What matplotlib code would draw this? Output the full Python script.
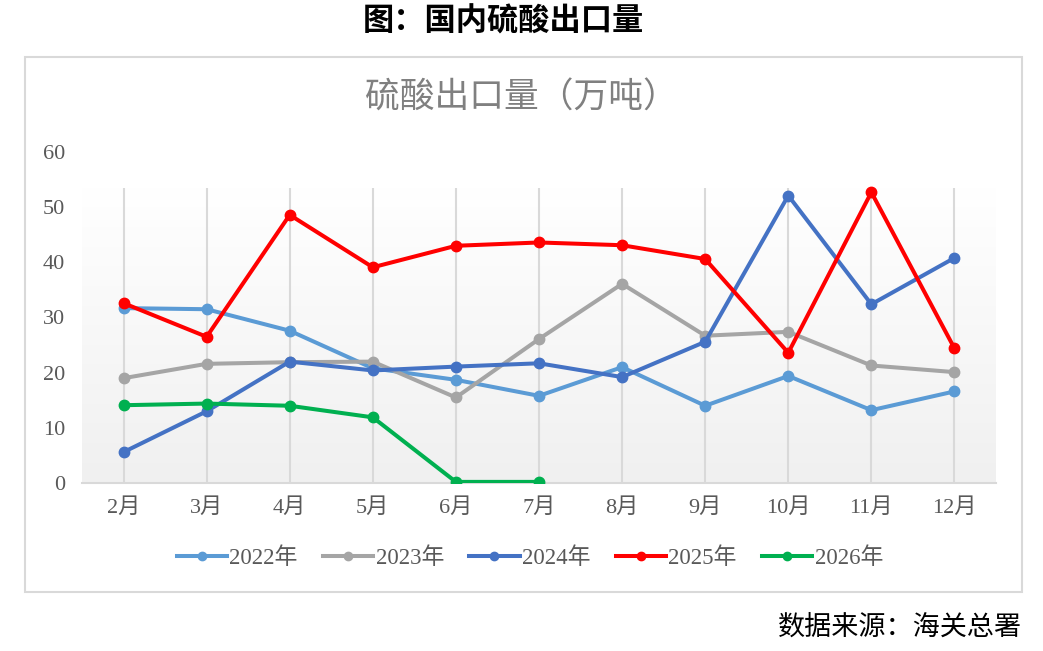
import matplotlib
matplotlib.use("Agg")
import matplotlib.pyplot as plt
import numpy as np
from matplotlib.patches import Rectangle
from matplotlib.lines import Line2D
from matplotlib.colors import LinearSegmentedColormap

months = ["2月", "3月", "4月", "5月", "6月", "7月", "8月", "9月", "10月", "11月", "12月"]
y2022 = [31.7, 31.5, 27.6, 20.8, 18.7, 15.8, 21.0, 14.0, 19.4, 13.2, 16.6]
y2023 = [19.0, 21.6, 21.9, 22.0, 15.5, 26.1, 36.1, 26.7, 27.4, 21.3, 20.1]
y2024 = [5.6, 13.0, 22.0, 20.4, 21.1, 21.7, 19.2, 25.6, 52.1, 32.4, 40.8]
y2025 = [32.6, 26.5, 48.6, 39.1, 43.0, 43.6, 43.1, 40.6, 23.6, 52.7, 24.4]
y2026 = [14.1, 14.4, 14.0, 11.9, 0.2, 0.2]
series_names = ["2022年", "2023年", "2024年", "2025年", "2026年"]
colors = ["#5B9BD5", "#A5A5A5", "#4472C4", "#FF0000", "#00B050"]
yticks = [0, 10, 20, 30, 40, 50, 60]

fam = ["Liberation Serif", "Noto Sans CJK SC", "DejaVu Sans"]
plt.rcParams["font.family"] = fam

W, H = 1043, 651
fig = plt.figure(figsize=(W / 100, H / 100), dpi=100)

# frame box
fig.patches.append(Rectangle((25 / W, 1 - 592 / H), (1022 - 25) / W, (592 - 57) / H,
                             transform=fig.transFigure, fill=False, edgecolor="#d9d9d9", lw=1.5))

fig.text(503 / W, 1 - 22 / H, "图：国内硫酸出口量", ha="center", va="center", fontsize=22.5,
         fontweight="bold", color="black", family=["Noto Sans CJK SC"])
fig.text(0.5, 1 - 98 / H, "硫酸出口量（万吨）", ha="center", va="center", fontsize=25,
         color="#808080", family=["Noto Sans CJK SC"])
fig.text(1022 / W, 1 - 627 / H, "数据来源：海关总署", ha="right", va="center", fontsize=19.5,
         color="black", family=["Noto Sans CJK SC"])

ax = fig.add_axes([82 / W, 1 - 483 / H, (996 - 82) / W, (483 - 152) / H])
x = np.arange(len(months))
ax.set_xlim(-0.5, len(months) - 0.5)
ax.set_ylim(0, 60)

# gradient background of plot area
grad = np.linspace(0, 1, 256).reshape(-1, 1)
cmap = LinearSegmentedColormap.from_list("g", ["#f0f0f0", "#ffffff"])
ax.imshow(grad, extent=(-0.5, len(months) - 0.5, 0, 53.5), origin="lower", aspect="auto",
          cmap=cmap, zorder=0)

ax.vlines(x, 0, 53.5, color="#d9d9d9", lw=1.5, zorder=1)

data = [y2022, y2023, y2024, y2025, y2026]
for name, vals, c in zip(series_names, data, colors):
    ax.plot(x[:len(vals)], vals, color=c, lw=2.9, marker="o", markersize=7.5, zorder=3,
            label=name, solid_capstyle="round")

for s in ["top", "right", "left"]:
    ax.spines[s].set_visible(False)
ax.spines["bottom"].set_color("#d9d9d9")
ax.spines["bottom"].set_linewidth(1.5)
ax.set_xticks(x)
ax.set_xticklabels(months)
ax.set_yticks(yticks)
ax.tick_params(axis="both", length=0, colors="#595959", labelsize=16)
ax.tick_params(axis="y", pad=12)
ax.tick_params(axis="x", pad=11)

handles = [Line2D([0], [0], color=c, lw=2.9, marker="o", markersize=6) for c in colors]
leg = fig.legend(handles, series_names, loc="center", bbox_to_anchor=(0.508, 1 - 558 / H),
                 ncol=5, frameon=False, fontsize=16.5, handlelength=2.2, handletextpad=0.1,
                 columnspacing=1.1, labelcolor="#595959")

fig.savefig("out.png", dpi=100)
